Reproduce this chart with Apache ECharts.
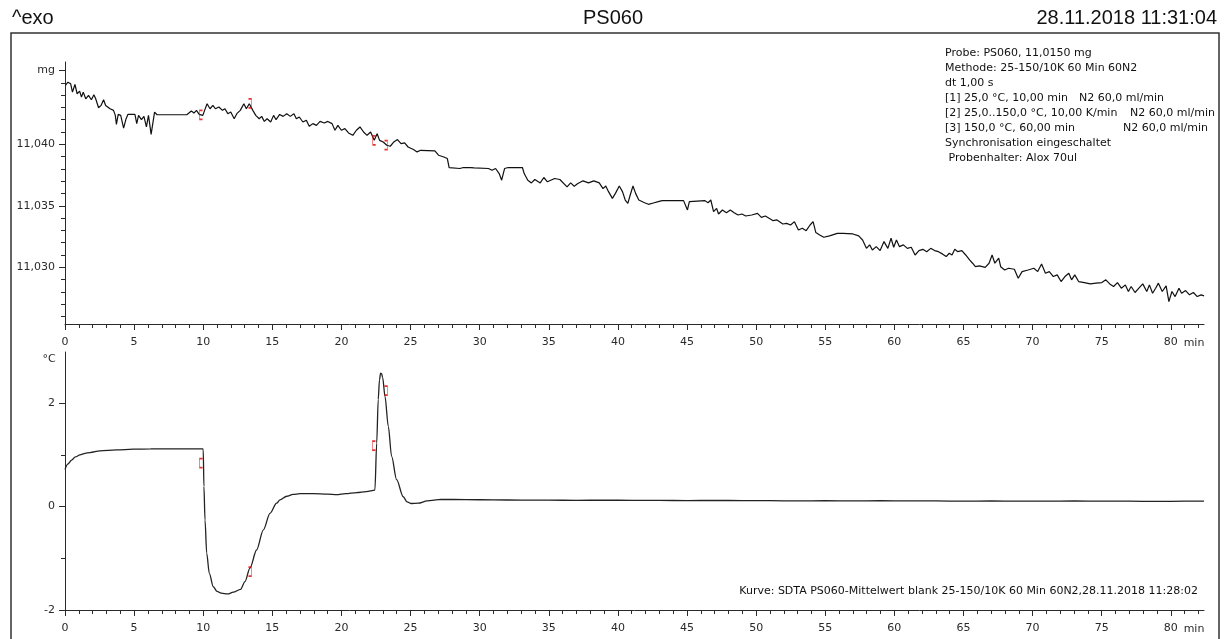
<!DOCTYPE html>
<html><head><meta charset="utf-8">
<script src="https://cdn.jsdelivr.net/npm/echarts@6/dist/echarts.min.js"></script>
<style>html,body{margin:0;padding:0;background:#fff}#c{width:1229px;height:639px}</style>
</head><body><div id="c"></div><script>
// ---- data ----
const massCurve = [[0.03,11.04478],[0.21,11.04505],[0.41,11.04492],[0.54,11.04424],[0.72,11.04486],[0.88,11.04411],[1.06,11.04432],[1.19,11.04384],[1.32,11.04424],[1.50,11.04370],[1.70,11.04397],[1.91,11.04362],[2.09,11.04403],[2.22,11.04370],[2.43,11.04297],[2.61,11.04316],[2.79,11.04362],[2.94,11.04316],[3.26,11.04289],[3.51,11.04276],[3.64,11.04235],[3.72,11.04162],[3.85,11.04243],[4.03,11.04235],[4.24,11.04132],[4.42,11.04208],[4.55,11.04243],[5.06,11.04243],[5.19,11.04168],[5.32,11.04235],[5.53,11.04200],[5.71,11.04227],[5.89,11.04141],[6.04,11.04235],[6.23,11.04081],[6.35,11.04168],[6.48,11.04262],[6.66,11.04240],[8.81,11.04240],[8.94,11.04254],[9.14,11.04270],[9.33,11.04254],[9.51,11.04276],[9.71,11.04243],[9.97,11.04235],[10.10,11.04276],[10.28,11.04330],[10.49,11.04289],[10.70,11.04316],[10.88,11.04289],[11.13,11.04303],[11.39,11.04276],[11.57,11.04289],[11.78,11.04249],[11.99,11.04262],[12.24,11.04208],[12.43,11.04249],[12.68,11.04276],[12.94,11.04330],[13.12,11.04289],[13.33,11.04330],[13.59,11.04276],[13.80,11.04235],[14.05,11.04208],[14.23,11.04227],[14.42,11.04186],[14.62,11.04208],[14.88,11.04181],[15.09,11.04235],[15.27,11.04200],[15.53,11.04243],[15.78,11.04227],[16.04,11.04249],[16.30,11.04227],[16.56,11.04249],[16.74,11.04208],[16.95,11.04222],[17.21,11.04181],[17.46,11.04195],[17.67,11.04146],[17.93,11.04168],[18.19,11.04154],[18.45,11.04186],[18.76,11.04173],[19.01,11.04186],[19.32,11.04168],[19.53,11.04114],[19.74,11.04154],[19.99,11.04114],[20.25,11.04127],[20.51,11.04092],[20.82,11.04073],[21.08,11.04114],[21.34,11.04141],[21.60,11.04100],[21.85,11.04073],[22.11,11.04100],[22.37,11.04032],[22.58,11.04086],[22.76,11.04032],[23.02,11.04019],[23.28,11.03992],[23.53,11.03984],[23.79,11.04019],[24.05,11.04038],[24.31,11.04005],[24.57,11.04011],[24.82,11.03978],[25.21,11.03957],[25.47,11.03938],[25.73,11.03951],[26.76,11.03946],[27.02,11.03911],[27.41,11.03897],[27.66,11.03884],[27.79,11.03811],[28.57,11.03803],[28.82,11.03811],[29.34,11.03811],[29.47,11.03822],[29.60,11.03808],[30.64,11.03803],[30.89,11.03789],[31.15,11.03803],[31.41,11.03762],[31.59,11.03708],[31.80,11.03803],[32.06,11.03811],[33.09,11.03811],[33.22,11.03762],[33.48,11.03708],[33.74,11.03686],[33.99,11.03714],[34.38,11.03686],[34.64,11.03730],[34.90,11.03695],[35.42,11.03722],[35.80,11.03714],[36.32,11.03654],[36.58,11.03686],[36.84,11.03659],[37.10,11.03681],[37.48,11.03703],[37.87,11.03686],[38.26,11.03703],[38.65,11.03686],
[38.92,11.03640],[39.12,11.03661],[39.32,11.03615],[39.60,11.03560],[39.82,11.03601],[40.10,11.03661],[40.33,11.03615],[40.53,11.03547],[40.72,11.03520],[40.89,11.03588],[41.09,11.03661],[41.28,11.03601],[41.51,11.03547],[41.93,11.03525],[42.21,11.03512],[42.63,11.03525],[42.92,11.03534],[43.20,11.03542],[44.75,11.03542],[44.89,11.03534],[45.03,11.03466],[45.17,11.03534],[46.30,11.03542],[46.52,11.03525],[46.72,11.03547],[46.92,11.03452],[47.14,11.03479],[47.28,11.03433],[47.56,11.03466],[47.85,11.03444],[48.13,11.03466],[48.41,11.03444],[48.69,11.03425],[48.97,11.03433],[49.25,11.03417],[49.68,11.03425],[50.10,11.03438],[50.38,11.03406],[50.66,11.03417],[50.94,11.03398],[51.23,11.03379],[51.51,11.03385],[51.93,11.03352],[52.21,11.03357],[52.49,11.03344],[52.77,11.03371],[53.06,11.03303],[53.34,11.03317],[53.62,11.03298],[53.90,11.03344],[54.12,11.03371],[54.32,11.03282],[54.60,11.03263],[54.89,11.03244],[55.31,11.03255],[55.87,11.03276],[56.29,11.03276],[57.00,11.03271],[57.42,11.03255],[57.70,11.03222],[57.98,11.03154],[58.21,11.03182],[58.41,11.03141],[58.69,11.03168],[58.97,11.03136],[59.25,11.03209],[59.53,11.03154],[59.76,11.03236],[59.95,11.03163],[60.15,11.03222],[60.37,11.03168],[60.65,11.03182],[60.94,11.03154],[61.22,11.03163],[61.50,11.03100],[61.78,11.03136],[62.06,11.03146],[62.34,11.03127],[62.63,11.03154],[62.91,11.03136],[63.19,11.03127],[63.47,11.03109],[63.75,11.03087],[63.97,11.03114],[64.17,11.03100],[64.37,11.03146],[64.59,11.03127],[64.88,11.03136],[65.16,11.03100],[65.44,11.03060],[65.66,11.03033],[65.86,11.03005],[66.15,11.03011],[66.57,11.03000],[66.85,11.03033],[67.07,11.03100],[67.27,11.03033],[67.55,11.03074],[67.69,11.03005],[67.98,11.02978],[68.26,11.02992],[68.68,11.02984],[68.96,11.02911],[69.24,11.02965],[69.67,11.02978],[70.09,11.02992],[70.37,11.02965],[70.65,11.03027],[70.93,11.02952],[71.21,11.02965],[71.50,11.02925],[71.78,11.02938],[72.06,11.02884],[72.34,11.02925],[72.62,11.02952],[72.82,11.02898],[73.05,11.02938],[73.33,11.02884],[73.75,11.02876],[74.17,11.02865],[74.59,11.02871],[75.01,11.02876],[75.30,11.02898],[75.58,11.02865],[75.86,11.02844],[76.14,11.02876],[76.42,11.02830],[76.71,11.02857],[76.93,11.02803],[77.13,11.02844],[77.41,11.02795],[77.69,11.02830],[77.97,11.02865],[78.26,11.02803],[78.45,11.02857],[78.68,11.02789],[78.90,11.02830],[79.10,11.02871],[79.38,11.02803],[79.66,11.02849],[79.86,11.02721],[80.08,11.02803],[80.31,11.02762],[80.59,11.02830],[80.78,11.02789],[81.07,11.02811],[81.35,11.02776],[81.63,11.02795],[81.91,11.02762],[82.19,11.02776],[82.40,11.02768]];

const dtaCurve = [[0,0.72],[0.2,0.82],[0.48,0.90],[0.75,0.96],[1.08,1.00],[1.45,1.03],[1.81,1.045],[2.53,1.078],[3.74,1.097],[4.94,1.11],[6.2,1.115],[7.35,1.117],[8.6,1.115],[9.96,1.117],[10.0,1.10],[10.05,0.39],[10.13,-0.26],[10.25,-0.90],[10.44,-1.29],[10.73,-1.55],[11.0,-1.64],[11.3,-1.675],[11.77,-1.69],[12.18,-1.655],[12.7,-1.60],[13.02,-1.45],[13.38,-1.19],[13.86,-0.84],[14.35,-0.45],[14.83,-0.13],[15.31,0.066],[15.55,0.13],[16.04,0.20],[16.5,0.235],[17.0,0.25],[17.96,0.25],[19.0,0.24],[19.65,0.23],[20.3,0.25],[21.1,0.271],[21.8,0.29],[22.42,0.32],[22.55,1.23],[22.66,2.07],[22.75,2.45],[22.83,2.58],[22.9,2.57],[22.98,2.50],[23.15,2.13],[23.39,1.55],[23.63,0.97],[23.99,0.52],[24.47,0.19],[24.75,0.09],[25.06,0.06],[25.56,0.066],[26.2,0.11],[27.2,0.14],[29,0.135],[31,0.13],[33,0.125],[35,0.125],[37,0.12],[39,0.125],[41,0.12],[43,0.12],[45,0.115],[47,0.12],[49,0.115],[51,0.115],[53,0.11],[55,0.115],[57,0.11],[59,0.115],[61,0.11],[63,0.11],[65,0.105],[67,0.11],[69,0.105],[71,0.105],[73,0.11],[75,0.105],[77,0.105],[79,0.10],[81,0.105],[82.4,0.105]];

const massOpen = [[9.84,11.04240],[22.37,11.04032]];
const massClose = [[13.38,11.04333],[23.22,11.03994]];
const dtaOpen = [[9.84,0.84],[22.35,1.18]];
const dtaClose = [[13.38,-1.26],[23.22,2.245]];

const xMajor = [0,5,10,15,20,25,30,35,40,45,50,55,60,65,70,75,80];
const xMinor = [1,2,3,4,6,7,8,9,11,12,13,14,16,17,18,19,21,22,23,24,26,27,28,29,31,32,33,34,36,37,38,39,41,42,43,44,46,47,48,49,51,52,53,54,56,57,58,59,61,62,63,64,66,67,68,69,71,72,73,74,76,77,78,79,81,82];
const massMajor = [11.030,11.035,11.040,11.046];
const massMinor = [11.026,11.027,11.028,11.029,11.031,11.032,11.033,11.034,11.036,11.037,11.038,11.039,11.041,11.042,11.043,11.044,11.045];
const dtaMajor = [-2,0,2];
const dtaMinor = [-1,1];

const infoLines = ['Probe: PS060, 11,0150 mg','Methode: 25-150/10K 60 Min 60N2','dt 1,00 s','[1] 25,0 °C, 10,00 min','[2] 25,0..150,0 °C, 10,00 K/min','[3] 150,0 °C, 60,00 min','Synchronisation eingeschaltet',' Probenhalter: Alox 70ul'];
const infoGas = [null,null,null,'N2 60,0 ml/min','N2 60,0 ml/min','N2 60,0 ml/min',null,null];
const infoGasX = [0,0,0,1079,1130,1123,0,0];

// ---- chart ----
const AX = '#2a2a2a';
const FONT = 'DejaVu Sans';
const chart = echarts.init(document.getElementById('c'), null, {renderer:'canvas'});

function xAxes(grid){
  return [
    {gridIndex:grid, type:'value', position:'bottom', min:0, max:82.4,
      axisLine:{show:true, onZero:false, lineStyle:{color:AX,width:1}},
      axisTick:{show:true, customValues:xMajor, length:6, lineStyle:{color:AX}},
      axisLabel:{show:true, customValues:xMajor, margin:13, color:AX, fontFamily:FONT, fontSize:11},
      splitLine:{show:false}},
    {gridIndex:grid, type:'value', position:'bottom', min:0, max:82.4,
      axisLine:{show:false, onZero:false},
      axisTick:{show:true, customValues:xMinor, length:4, lineStyle:{color:AX}},
      axisLabel:{show:false}, splitLine:{show:false}}
  ];
}
function fmtMass(v){ return v > 11.0455 ? 'mg' : v.toFixed(3).replace('.', ','); }

const graphics = [
  {type:'rect', shape:{x:11, y:33, width:1208, height:640}, style:{fill:'none', stroke:'#333', lineWidth:1.5}, silent:true},
  {type:'text', style:{text:'^exo', x:12, y:18, fontFamily:'Liberation Sans', fontSize:20, fill:'#111', align:'left', verticalAlign:'middle'}},
  {type:'text', style:{text:'PS060', x:613, y:18, fontFamily:'Liberation Sans', fontSize:20, fill:'#111', align:'center', verticalAlign:'middle'}},
  {type:'text', style:{text:'28.11.2018 11:31:04', x:1217, y:18, fontFamily:'Liberation Sans', fontSize:20, fill:'#111', align:'right', verticalAlign:'middle'}},
  {type:'text', style:{text:'°C', x:49, y:359, fontFamily:FONT, fontSize:11, fill:AX, align:'center', verticalAlign:'middle'}},
  {type:'text', style:{text:'min', x:1194, y:343, fontFamily:FONT, fontSize:11, fill:AX, align:'center', verticalAlign:'middle'}},
  {type:'text', style:{text:'min', x:1194, y:629, fontFamily:FONT, fontSize:11, fill:AX, align:'center', verticalAlign:'middle'}},
  {type:'text', style:{text:'Kurve: SDTA PS060-Mittelwert blank 25-150/10K 60 Min 60N2,28.11.2018 11:28:02', x:1198, y:591, fontFamily:FONT, fontSize:11, fill:'#111', align:'right', verticalAlign:'middle'}}
];
infoLines.forEach((t,i)=>{
  const y = 53 + i*15;
  graphics.push({type:'text', style:{text:t, x:945, y:y, fontFamily:FONT, fontSize:11, fill:'#111', align:'left', verticalAlign:'middle'}});
  if (infoGas[i]) graphics.push({type:'text', style:{text:infoGas[i], x:infoGasX[i], y:y, fontFamily:FONT, fontSize:11, fill:'#111', align:'left', verticalAlign:'middle'}});
});

const openPath = 'path://M3,0 L0,0 L0,10 L3,10';
const closePath = 'path://M0,0 L3,0 L3,10 L0,10';
function brackets(data, path, xi, yi){
  return {type:'scatter', xAxisIndex:xi, yAxisIndex:yi, data:data, symbol:path, symbolSize:[3,9],
    itemStyle:{color:'none', borderColor:'#e00000', borderWidth:1}, silent:true, z:5};
}

chart.setOption({
  animation:false,
  backgroundColor:'#fff',
  grid:[{left:65, top:62, width:1139, height:262}, {left:65, top:352, width:1139, height:258}],
  xAxis:[...xAxes(0), ...xAxes(1)],
  yAxis:[
    {gridIndex:0, type:'value', position:'left', min:11.02539, max:11.04669,
      axisLine:{show:true, onZero:false, lineStyle:{color:AX,width:1}},
      axisTick:{show:true, customValues:massMajor, length:6, lineStyle:{color:AX}},
      axisLabel:{show:true, customValues:massMajor, formatter:fmtMass, margin:10, color:AX, fontFamily:FONT, fontSize:11},
      splitLine:{show:false}},
    {gridIndex:0, type:'value', position:'left', min:11.02539, max:11.04669,
      axisLine:{show:false, onZero:false},
      axisTick:{show:true, customValues:massMinor, length:4, lineStyle:{color:AX}},
      axisLabel:{show:false}, splitLine:{show:false}},
    {gridIndex:1, type:'value', position:'left', min:-2, max:2.99,
      axisLine:{show:true, onZero:false, lineStyle:{color:AX,width:1}},
      axisTick:{show:true, customValues:dtaMajor, length:6, lineStyle:{color:AX}},
      axisLabel:{show:true, customValues:dtaMajor, margin:10, color:AX, fontFamily:FONT, fontSize:11},
      splitLine:{show:false}},
    {gridIndex:1, type:'value', position:'left', min:-2, max:2.99,
      axisLine:{show:false, onZero:false},
      axisTick:{show:true, customValues:dtaMinor, length:4, lineStyle:{color:AX}},
      axisLabel:{show:false}, splitLine:{show:false}}
  ],
  series:[
    {type:'line', xAxisIndex:0, yAxisIndex:0, data:massCurve, showSymbol:false, symbol:'none',
      lineStyle:{color:'#111', width:1.2}, silent:true},
    {type:'line', xAxisIndex:2, yAxisIndex:2, data:dtaCurve, showSymbol:false, symbol:'none',
      smooth:0.3, smoothMonotone:'x', lineStyle:{color:'#222', width:1.3}, silent:true},
    brackets(massOpen, openPath, 0, 0),
    brackets(massClose, closePath, 0, 0),
    brackets(dtaOpen, openPath, 2, 2),
    brackets(dtaClose, closePath, 2, 2)
  ],
  graphic:graphics
});
</script></body></html>
